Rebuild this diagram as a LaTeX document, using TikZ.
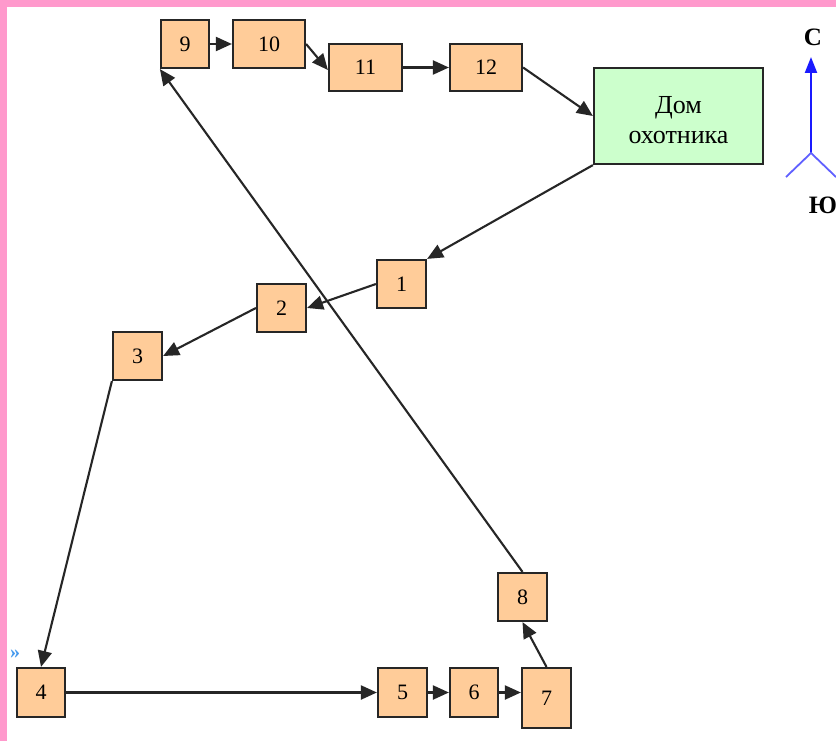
\documentclass[tikz,border=0pt]{standalone}
\usepackage{fontspec}
\setmainfont{Liberation Serif}
\usetikzlibrary{arrows.meta}
\definecolor{boxfill}{HTML}{FFCC99}
\definecolor{housefill}{HTML}{CCFFCC}
\definecolor{pinkedge}{HTML}{FF99CC}
\definecolor{compassblue}{HTML}{1A1AFF}
\definecolor{legblue}{HTML}{6060FF}
\definecolor{markblue}{HTML}{4499EE}
\tikzset{
  numbox/.style={draw=black!85, line width=2.2pt, fill=boxfill, inner sep=0pt,
    font=\fontsize{22}{26}\selectfont},
  housebox/.style={draw=black!85, line width=2.2pt, fill=housefill, inner sep=0pt,
    align=center, font=\fontsize{26}{30}\selectfont},
  link/.style={line width=2.1pt, black!85, -{Triangle[length=16pt,width=14pt]}},
  compasslbl/.style={font=\bfseries\fontsize{25}{28}\selectfont, inner sep=0pt}
}
\begin{document}
\begin{tikzpicture}[x=1pt,y=-1pt]
\useasboundingbox (0,0) rectangle (836,741);
\begin{scope}
\clip (0,0) rectangle (836,741);
\fill[white] (0,0) rectangle (836,741);
\fill[pinkedge] (0,0) rectangle (836,7);
\fill[pinkedge] (0,0) rectangle (7,741);

% nodes
\node[numbox, minimum width=48pt, minimum height=48pt] (n9) at (185,44) {9};
\node[numbox, minimum width=72pt, minimum height=48pt] (n10) at (269,44) {10};
\node[numbox, minimum width=73pt, minimum height=47pt] (n11) at (365.5,67.5) {11};
\node[numbox, minimum width=72pt, minimum height=47pt] (n12) at (486,67.5) {12};
\node[housebox, minimum width=169pt, minimum height=96pt] (house) at (678.5,116) {};
\node[font=\fontsize{26}{30}\selectfont, align=center, inner sep=0pt] (houselbl) at ([yshift=-4pt]house.center) {Дом\\охотника};
\node[numbox, minimum width=49pt, minimum height=48pt] (n1) at (401.5,284) {1};
\node[numbox, minimum width=49pt, minimum height=48pt] (n2) at (281.5,308) {2};
\node[numbox, minimum width=49pt, minimum height=48pt] (n3) at (137.5,356) {3};
\node[numbox, minimum width=48pt, minimum height=49pt] (n4) at (41,692.5) {4};
\node[numbox, minimum width=49pt, minimum height=49pt] (n5) at (402.5,692.5) {5};
\node[numbox, minimum width=48pt, minimum height=49pt] (n6) at (474,692.5) {6};
\node[numbox, minimum width=49pt, minimum height=60pt] (n7) at (546.5,698) {7};
\node[numbox, minimum width=49pt, minimum height=48pt] (n8) at (522.5,597) {8};

% connectors
\draw[link] (n9.east) -- (n10.west);
\draw[link] (n10.east) -- ([yshift=-2.5pt]n11.west);
\draw[link] (n11.east) -- (n12.west);
\draw[link] (n12.east) -- (house.west);
\draw[link] (house.south west) -- (n1.north east);
\draw[link] (n1.west) -- (n2.east);
\draw[link] (n2.west) -- (n3.east);
\draw[link] (n3.south west) -- (n4.north);
\draw[link] (n4.east) -- (n5.west);
\draw[link] (n5.east) -- (n6.west);
\draw[link] (n6.east) -- (n6.east -| n7.west);
\draw[link] (n7.north) -- (n8.south);
\draw[link] (n8.north) -- (n9.south west);

% compass
\coordinate (cc) at (811,153);
\coordinate (cn) at (811,57);
\coordinate (cl) at (786,177);
\coordinate (cr) at (836,177);
\draw[compassblue, line width=2.2pt, -{Triangle[length=16pt,width=12pt]}] (cc) -- (cn);
\draw[legblue, line width=1.8pt] (cl) -- (cc) -- (cr);
\node[compasslbl] (north) at (813,37) {С};
\node[compasslbl] (south) at (823,205) {Ю};

% small mark
\node[markblue, font=\bfseries\fontsize{20}{22}\selectfont, inner sep=0pt] (mark) at (15,654) {»};
\end{scope}
\end{tikzpicture}
\end{document}
